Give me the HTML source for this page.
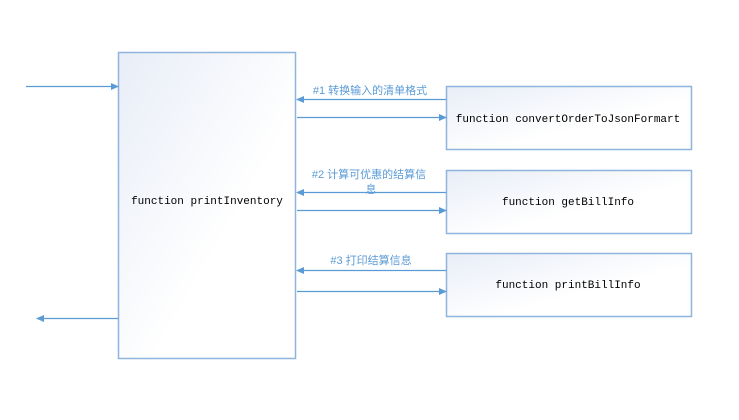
<!DOCTYPE html>
<html><head><meta charset="utf-8"><style>
body{margin:0;width:739px;height:415px;background:#fff;overflow:hidden}
</style></head><body>
<svg width="739" height="415" xmlns="http://www.w3.org/2000/svg" font-family="'Liberation Mono','Noto Sans CJK SC',monospace">
<defs>
<linearGradient id="g" x1="0" y1="0" x2="0.6" y2="0.6">
<stop offset="0" stop-color="#e8edf7"/><stop offset="1" stop-color="#ffffff"/></linearGradient>
<marker id="a" markerWidth="8" markerHeight="8" refX="7" refY="4" orient="auto" markerUnits="userSpaceOnUse"><path d="M0,0.5 L8,4 L0,7.5z" fill="#5b9bd5"/></marker>
</defs>
<g fill="url(#g)" stroke="#8fb4dd" stroke-width="1.5">
<rect x="118.5" y="52.5" width="177" height="306"/>
<rect x="446.5" y="86.5" width="245" height="63"/>
<rect x="446.5" y="170.5" width="245" height="63"/>
<rect x="446.5" y="253.5" width="245" height="63"/>
</g>
<g stroke="#5b9bd5" stroke-width="1.2" marker-end="url(#a)">
<line x1="26" y1="86.5" x2="118" y2="86.5"/>
<line x1="118" y1="318.5" x2="37" y2="318.5"/>
<line x1="446" y1="99.5" x2="297" y2="99.5"/>
<line x1="297" y1="117.5" x2="446" y2="117.5"/>
<line x1="446" y1="192.5" x2="297" y2="192.5"/>
<line x1="297" y1="210.5" x2="446" y2="210.5"/>
<line x1="446" y1="270.5" x2="297" y2="270.5"/>
<line x1="297" y1="291.5" x2="446" y2="291.5"/>
</g>
<g font-size="11" fill="#000" text-anchor="middle">
<text x="207" y="204">function printInventory</text>
<text x="568" y="122">function convertOrderToJsonFormart</text>
<text x="568" y="205">function getBillInfo</text>
<text x="568" y="288">function printBillInfo</text>
</g>
<g font-size="11" fill="#5b9bd5" text-anchor="middle" font-family="'Liberation Sans','Noto Sans CJK SC',sans-serif">
<text x="370" y="94">#1 转换输入的清单格式</text>
<text x="369" y="178">#2 计算可优惠的结算信</text>
<text x="371" y="193">息</text>
<text x="371" y="264">#3 打印结算信息</text>
</g>
</svg>
</body></html>
